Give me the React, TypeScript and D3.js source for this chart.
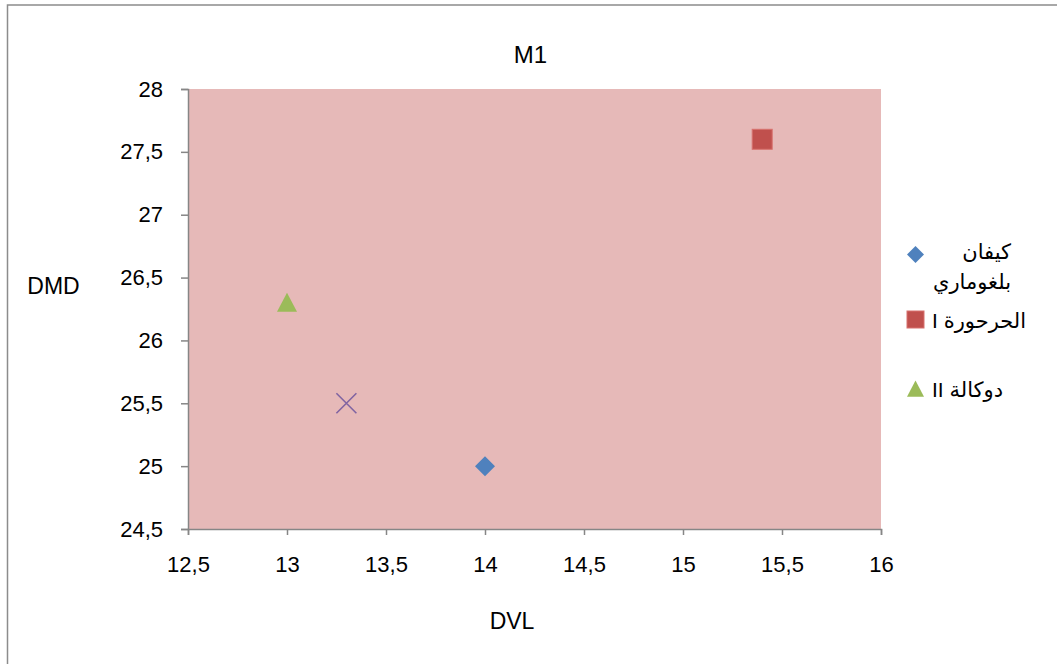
import React, { useEffect, useRef } from "react";
import * as d3 from "d3";

const xTicks = [12.5, 13, 13.5, 14, 14.5, 15, 15.5, 16];
const yTicks = [24.5, 25, 25.5, 26, 26.5, 27, 27.5, 28];
const seriesNames = [["كيفان", "بلغوماري"], ["الحرحورة I"], ["دوكالة II"], [""]];
const seriesX = [14, 15.4, 13, 13.3];
const seriesY = [25, 27.6, 26.3, 25.5];
const seriesColors = ["#4F81BD", "#C0504D", "#9BBB59", "#8064A2"];
const seriesShapes = ["diamond", "square", "triangle", "x"];
const showInLegend = [true, true, true, false];

const W = 1057, H = 664;
const FONT = "'Liberation Sans', Arial, 'DejaVu Sans', sans-serif";

export default function App() {
  const ref = useRef<SVGSVGElement>(null);
  useEffect(() => {
    const svg = d3.select(ref.current);
    svg.selectAll("*").remove();
    svg.append("rect").attr("width", W).attr("height", H).attr("fill", "#fff");
    svg.append("rect").attr("x", 7.5).attr("y", 5).attr("width", 1080).attr("height", 700)
      .attr("fill", "none").attr("stroke", "#8c8c8c").attr("stroke-width", 1.5);

    const x = d3.scaleLinear().domain([12.5, 16]).range([188, 881]);
    const y = d3.scaleLinear().domain([24.5, 28]).range([529, 89]);

    svg.append("rect").attr("x", x(12.5)).attr("y", y(28)).attr("width", x(16) - x(12.5))
      .attr("height", y(24.5) - y(28)).attr("fill", "#E6B9B8");

    const fmt = (d: any) => String(d).replace(".", ",");
    const xa = svg.append("g").attr("transform", `translate(0,${y(24.5)})`)
      .call(d3.axisBottom(x).tickValues(xTicks).tickSize(6).tickPadding(21).tickFormat(fmt));
    const ya = svg.append("g").attr("transform", `translate(${x(12.5)},0)`)
      .call(d3.axisLeft(y).tickValues(yTicks).tickSize(7).tickPadding(18).tickFormat(fmt));
    [xa, ya].forEach(a => {
      a.selectAll("path").attr("stroke", "#868686").attr("stroke-width", 1.5);
      a.selectAll("line").attr("stroke", "#868686").attr("stroke-width", 1.5);
      a.selectAll("text").attr("font-family", FONT).attr("font-size", 22).attr("fill", "#000");
    });
    xa.selectAll("text").attr("dy", "0.71em");

    const sym = (g: any, shape: string, cx: number, cy: number, color: string, s: number) => {
      if (shape === "diamond") {
        g.append("path").attr("d", `M${cx},${cy - s}L${cx + s},${cy}L${cx},${cy + s}L${cx - s},${cy}Z`).attr("fill", color);
      } else if (shape === "square") {
        g.append("rect").attr("x", cx - s).attr("y", cy - s).attr("width", 2 * s).attr("height", 2 * s).attr("fill", color)
          .attr("stroke", "#D8716E").attr("stroke-width", 1);
      } else if (shape === "triangle") {
        g.append("path").attr("d", `M${cx},${cy - s}L${cx + s},${cy + s * 0.9}L${cx - s},${cy + s * 0.9}Z`).attr("fill", color);
      } else {
        g.append("path").attr("d", `M${cx - s},${cy - s}L${cx + s},${cy + s}M${cx - s},${cy + s}L${cx + s},${cy - s}`)
          .attr("stroke", color).attr("stroke-width", 1.6).attr("fill", "none");
      }
    };

    const pts = svg.append("g");
    seriesX.forEach((vx, i) => sym(pts, seriesShapes[i], x(vx), y(seriesY[i]), seriesColors[i], 10));

    svg.append("text").attr("x", 530.5).attr("y", 63).attr("text-anchor", "middle").attr("font-family", FONT)
      .attr("font-size", 24).text("M1");
    svg.append("text").attr("x", 53.5).attr("y", 294).attr("text-anchor", "middle").attr("font-family", FONT)
      .attr("font-size", 23).text("DMD");
    svg.append("text").attr("x", 512).attr("y", 629).attr("text-anchor", "middle").attr("font-family", FONT)
      .attr("font-size", 23).text("DVL");

    const legY = [254.5, 319.5, 389];
    const leg = svg.append("g");
    seriesNames.forEach((lines, i) => {
      if (!showInLegend[i]) return;
      const ly = legY[i];
      sym(leg, seriesShapes[i], 915.5, ly, seriesColors[i], 8.5);
      lines.forEach((t, j) => {
        const tx = leg.append("text").attr("direction", "rtl").attr("font-family", FONT).attr("font-size", 21).text(t);
        if (lines.length > 1) {
          tx.attr("x", 1011).attr("y", 259 + j * 30).attr("text-anchor", "start");
        } else {
          tx.attr("x", 932).attr("y", ly + 8).attr("text-anchor", "end");
        }
      });
    });
  }, []);
  return (
    <svg ref={ref} width={W} height={H} style={{ position: "absolute", left: 0, top: 0 }} />
  );
}
